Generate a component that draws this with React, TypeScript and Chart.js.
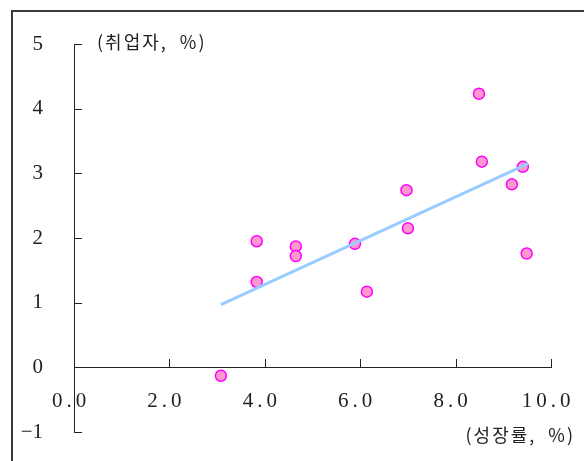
import React, { useEffect, useRef } from "react";
import { Chart, registerables } from "chart.js";

Chart.register(...registerables);

// Data
const growth = [3.08, 3.83, 3.83, 4.65, 4.65, 5.89, 6.14, 6.97, 7.0, 8.49, 8.55, 9.18, 9.41, 9.49];
const employment = [-0.13, 1.32, 1.95, 1.87, 1.72, 1.91, 1.17, 2.74, 2.15, 4.23, 3.18, 2.83, 3.1, 1.76];
const trendX = [3.08, 9.52];
const trendY = [0.97, 3.15];
const xTicks = [0, 2, 4, 6, 8, 10];
const yTicks = [-1, 0, 1, 2, 3, 4, 5];
const yTitle = "(취업자,  %)";
const xTitle = "(성장률,  %)";

const TICK_FONT = '"Liberation Serif", "Times New Roman", serif';
const KO_FONT = '"Noto Sans CJK KR", sans-serif';

const extrasPlugin = {
  id: "extras",
  beforeDraw(chart: any) {
    const sc = chart.scales.x;
    if (sc && !sc._wrappedLabels) {
      const orig = sc.drawLabels;
      sc.drawLabels = function (ca: any) {
        const ctx = chart.ctx;
        ctx.save();
        ctx.letterSpacing = "4px";
        ctx.translate(-3, 0);
        orig.call(this, ca);
        ctx.restore();
      };
      sc._wrappedLabels = true;
    }
  },
  afterDraw(chart: any) {
    const ctx = chart.ctx;
    const xs = chart.scales.x;
    const ys = chart.scales.y;
    const ca = chart.chartArea;
    const y0 = ys.getPixelForValue(0);
    ctx.save();
    ctx.strokeStyle = "#222";
    ctx.lineWidth = 1;
    ctx.beginPath();
    for (const v of yTicks) {
      const py = Math.round(ys.getPixelForValue(v)) + 0.5;
      ctx.moveTo(ca.left, py);
      ctx.lineTo(ca.left + 8, py);
    }
    for (const v of xTicks) {
      if (v === 0) continue;
      const px = Math.round(xs.getPixelForValue(v)) + 0.5;
      ctx.moveTo(px, Math.round(y0));
      ctx.lineTo(px, Math.round(y0) - 8);
    }
    ctx.stroke();
    ctx.fillStyle = "#222";
    ctx.font = `18px ${KO_FONT}`;
    ctx.letterSpacing = "2px";
    ctx.textBaseline = "middle";
    ctx.textAlign = "left";
    ctx.fillText(yTitle, ca.left + 23, ca.top - 2);
    ctx.textAlign = "right";
    ctx.fillText(xTitle, ca.right + 24, ca.bottom + 3);
    ctx.restore();
  },
};

export default function App() {
  const ref = useRef<HTMLCanvasElement | null>(null);
  useEffect(() => {
    if (!ref.current) return;
    const chart = new Chart(ref.current, {
      type: "scatter",
      data: {
        datasets: [
          {
            type: "line",
            data: trendX.map((x, i) => ({ x, y: trendY[i] })),
            borderColor: "#99CCFF",
            borderWidth: 3,
            pointRadius: 0,
            fill: false,
            order: 0,
          } as any,
          {
            type: "scatter",
            data: growth.map((x, i) => ({ x, y: employment[i] })),
            backgroundColor: "#FF99CC",
            borderColor: "#FF00FF",
            borderWidth: 1.5,
            pointRadius: 5.5,
            order: 1,
          },
        ],
      },
      options: {
        animation: false,
        responsive: true,
        maintainAspectRatio: false,
        layout: { padding: { top: 44, right: 33, bottom: 29, left: 0 } },
        plugins: { legend: { display: false }, tooltip: { enabled: false } },
        scales: {
          x: {
            type: "linear",
            min: 0,
            max: 10,
            position: { y: 0 } as any,
            afterFit: (s: any) => {
              s.height = 0;
              s.paddingLeft = 0;
              s.paddingRight = 0;
              s.paddingTop = 0;
              s.paddingBottom = 0;
            },
            afterBuildTicks: (s: any) => {
              s.ticks = xTicks.map((v) => ({ value: v }));
            },
            grid: { display: true, drawOnChartArea: false, drawTicks: false },
            border: { display: true, color: "#222", width: 1 },
            ticks: {
              padding: 22,
              color: "#222",
              font: { family: TICK_FONT, size: 21 },
              callback: (v: any) => Number(v).toFixed(1),
            },
          },
          y: {
            type: "linear",
            position: "left",
            min: -1,
            max: 5,
            afterFit: (s: any) => {
              s.width = 74;
              s.paddingTop = 0;
              s.paddingBottom = 0;
            },
            afterBuildTicks: (s: any) => {
              s.ticks = yTicks.map((v) => ({ value: v }));
            },
            grid: { display: true, drawOnChartArea: false, drawTicks: false },
            border: { display: true, color: "#222", width: 1 },
            ticks: {
              padding: 31,
              color: "#222",
              font: { family: TICK_FONT, size: 21 },
              callback: (v: any) => (Number(v) < 0 ? "−" + Math.abs(Number(v)) : String(v)),
            },
          },
        },
      },
      plugins: [extrasPlugin],
    });
    return () => chart.destroy();
  }, []);

  return (
    <div style={{ position: "fixed", left: 0, top: 0, width: 584, height: 461, background: "#fff" }}>
      <div
        style={{
          position: "absolute",
          left: 11,
          top: 10,
          width: 700,
          height: 600,
          borderLeft: "2px solid #3a3a3a",
          borderTop: "2px solid #3a3a3a",
          boxSizing: "border-box",
        }}
      />
      <canvas ref={ref} style={{ position: "absolute", left: 0, top: 0 }} />
    </div>
  );
}
